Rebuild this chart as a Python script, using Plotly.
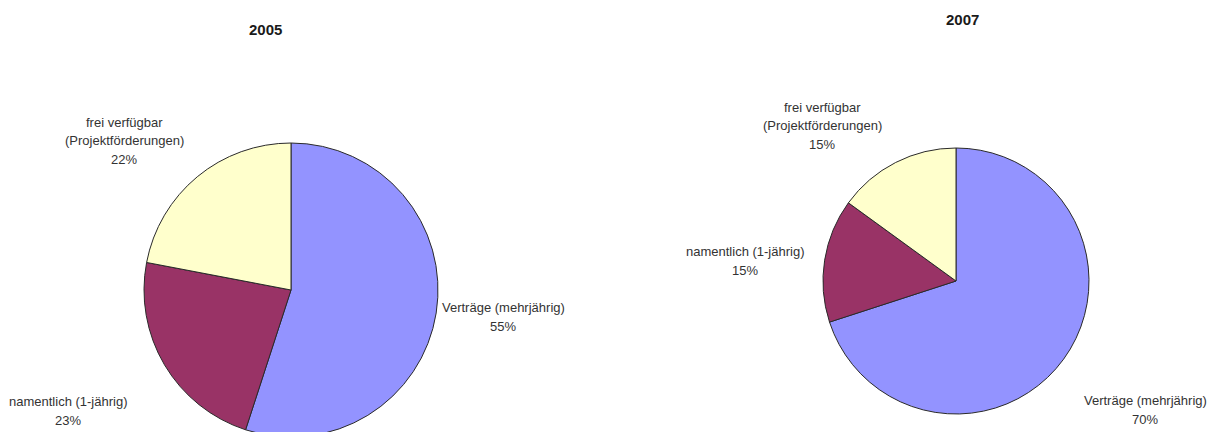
import plotly.graph_objects as go

# ── Daten ─────────────────────────────────────────────────────────────────────
years = ["2005", "2007"]
categories = [
    "Verträge (mehrjährig)",
    "namentlich (1-jährig)",
    "frei verfügbar<br>(Projektförderungen)",
]
shares_2005 = [55, 23, 22]
shares_2007 = [70, 15, 15]
colors = ["#9393ff", "#993366", "#ffffcc"]

# ── Layout (Pixel) ────────────────────────────────────────────────────────────
# Figur etwas höher als das Fenster: der linke Kreis wird unten abgeschnitten
W, H = 1230, 437
PIES = {
    "2005": {"x": (144, 438), "y": (143, 437), "title": (265, 29),
             "lbl": [(503, 307), (68, 401), (124, 122)]},
    "2007": {"x": (823, 1089), "y": (148, 414), "title": (962, 20),
             "lbl": [(1145, 400), (745, 251), (822, 107)]},
}
LINE_H = 19
FONT = "Liberation Sans, Arial, sans-serif"

fig = go.Figure()
annotations = []

for year, shares in zip(years, [shares_2005, shares_2007]):
    p = PIES[year]
    fig.add_trace(go.Pie(
        labels=categories,
        values=shares,
        marker=dict(colors=colors, line=dict(color="#2a2a2a", width=1)),
        direction="clockwise",
        rotation=0,
        sort=False,
        textinfo="none",
        hoverinfo="label+percent",
        domain=dict(x=[p["x"][0] / W, p["x"][1] / W],
                    y=[1 - p["y"][1] / H, 1 - p["y"][0] / H]),
    ))

    # Titel
    annotations.append(dict(
        x=p["title"][0] / W, y=1 - p["title"][1] / H,
        xref="paper", yref="paper", showarrow=False,
        xanchor="center", yanchor="middle",
        text=f"<b>{year}</b>",
        font=dict(family=FONT, size=15, color="#1a1a1a"),
    ))

    # Beschriftungen, zeilenweise
    for cat, val, (lx, ly) in zip(categories, shares, p["lbl"]):
        lines = cat.split("<br>") + [f"{val}%"]
        for i, line in enumerate(lines):
            annotations.append(dict(
                x=lx / W, y=1 - (ly + i * LINE_H) / H,
                xref="paper", yref="paper", showarrow=False,
                xanchor="center", yanchor="middle",
                text=line,
                font=dict(family=FONT, size=13, color="#333333"),
            ))

fig.update_layout(
    width=W,
    height=H,
    margin=dict(l=0, r=0, t=0, b=0),
    paper_bgcolor="white",
    plot_bgcolor="white",
    showlegend=False,
    annotations=annotations,
)

fig.write_html(
    "out.html",
    config={"displayModeBar": False},
    post_script="document.body.style.margin='0';document.body.style.overflow='hidden';",
)
